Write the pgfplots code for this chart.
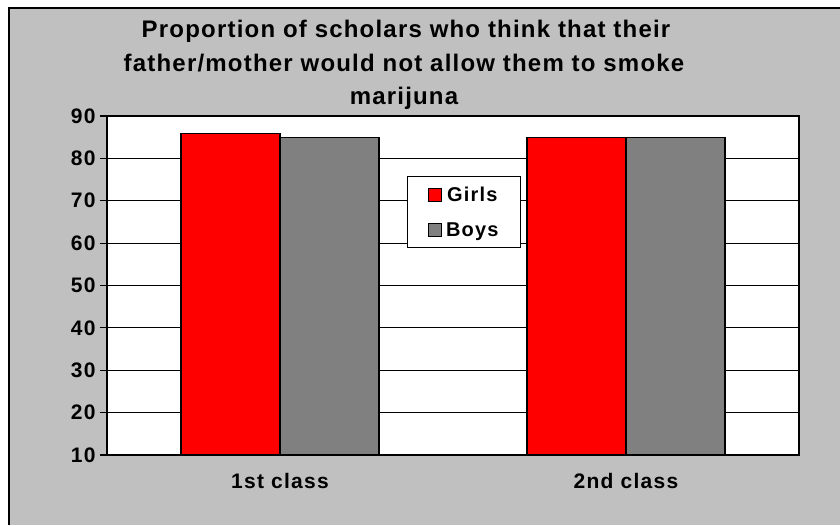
\documentclass[border=0pt]{standalone}
\usepackage{fontspec}
\setmainfont{Liberation Sans}
\newfontfamily\titlefont{Liberation Sans}[LetterSpace=5]
\newfontfamily\labelfont{Liberation Sans}[LetterSpace=6]
\usepackage{pgfplots}
\pgfplotsset{compat=1.18}

\definecolor{chartbg}{HTML}{C0C0C0}
\definecolor{girls}{HTML}{FF0000}
\definecolor{boys}{HTML}{808080}

\begin{document}
\begin{tikzpicture}[x=1pt,y=1pt]
  \useasboundingbox (0,0) rectangle (840,525);
  \fill[white] (0,0) rectangle (840,525);
  % chart area (cut at right and bottom)
  \fill[chartbg] (9,0) rectangle (840,517);
  \draw[line width=2pt] (9,0) -- (9,517) -- (840,517);
  % clipped letter of the text above
  \begin{scope}
    \clip (0,517) rectangle (840,525);
    \node[anchor=base, inner sep=0pt, font=\bfseries\fontsize{22}{26}\selectfont] at (383,532) {y};
  \end{scope}

  % title
  \node[anchor=base, inner sep=0pt, font=\titlefont\bfseries\fontsize{24}{28}\selectfont] at (406,487) {Proportion of scholars who think that their};
  \node[anchor=base, inner sep=0pt, font=\titlefont\bfseries\fontsize{24}{28}\selectfont] at (404,453.5) {father/mother would not allow them to smoke};
  \node[anchor=base, inner sep=0pt, font=\titlefont\bfseries\fontsize{24}{28}\selectfont] at (404,420) {marijuna};

  \begin{axis}[
      at={(107pt,70pt)}, anchor=south west,
      scale only axis,
      width=692pt, height=339pt,
      ybar=0pt, bar width=99pt,
      axis background/.style={fill=white},
      axis line style={line width=1.2pt},
      every tick label/.append style={font=\labelfont\bfseries\fontsize{21}{24}\selectfont},
      /pgf/number format/assume math mode=true,
      % x-axis
      xmin=-0.5, xmax=1.5,
      xtick={0,1},
      xticklabels={1st class, 2nd class},
      x tick label style={yshift=-8pt},
      major x tick style={draw=none},
      extra x ticks={-0.5,0.5,1.5},
      extra x tick labels={},
      extra x tick style={tick align=outside, major tick length=7pt,
        tick style={line width=1.2pt, black}, grid=none},
      xtick pos=bottom,
      % y-axis
      ymin=10, ymax=90,
      ytick={10,20,...,90},
      ytick pos=left,
      tick align=outside,
      major tick length=7pt,
      y tick label style={xshift=-1pt},
      tick style={line width=1.2pt, black},
      ymajorgrids=true,
      grid style={line width=1.2pt, black},
      % legend
      legend style={at={(0.4335,0.823)}, anchor=north west,
        draw=black, line width=1.2pt, fill=white,
        font=\labelfont\bfseries\fontsize{20}{24}\selectfont,
        inner xsep=20pt, inner ysep=8pt, row sep=16pt},
      legend image code/.code={
        \draw[#1, line width=1pt] (0pt,-6.5pt) rectangle (13pt,6.5pt);
        \path[draw=none, fill=none] (0pt,0pt) rectangle (16pt,0.1pt);
      },
    ]
    \addplot[fill=girls, draw=black, line width=1.2pt] coordinates {(0,85.8) (1,84.9)};
    \addplot[fill=boys, draw=black, line width=1.2pt] coordinates {(0,84.9) (1,84.9)};
    \legend{Girls, Boys}
  \end{axis}
\end{tikzpicture}
\end{document}
